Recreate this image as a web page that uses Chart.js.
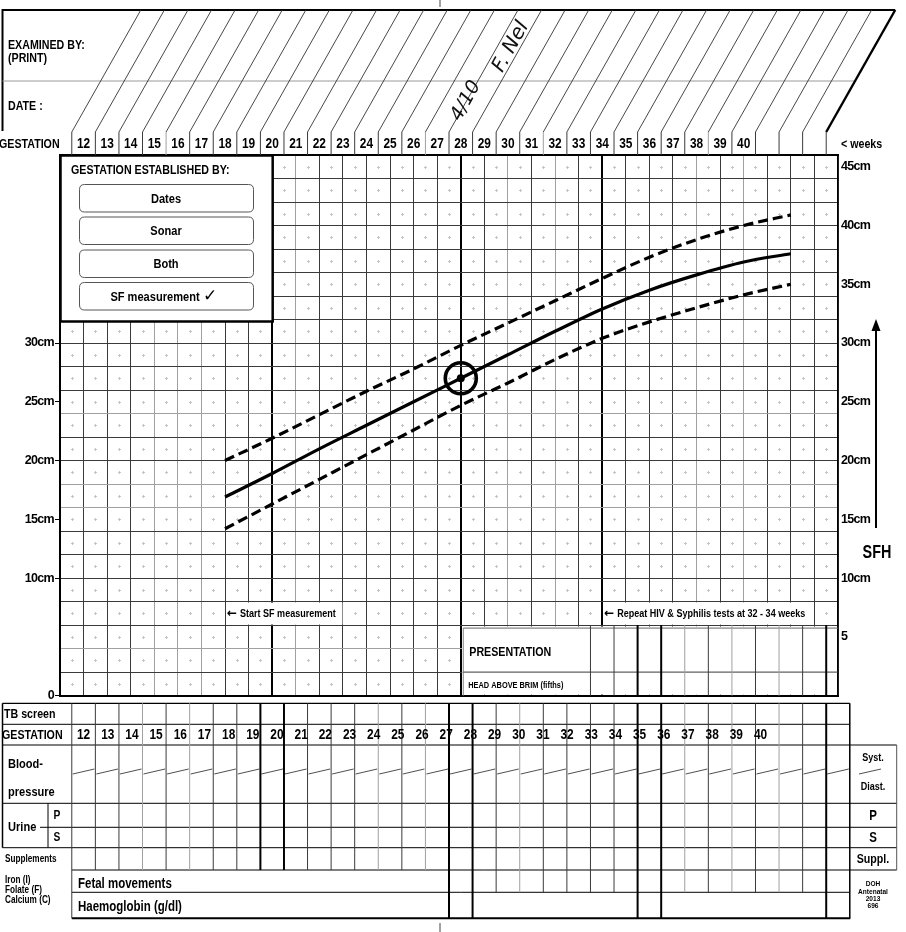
<!DOCTYPE html>
<html><head><meta charset="utf-8">
<script src="https://cdn.jsdelivr.net/npm/chart.js@4.4.1/dist/chart.umd.min.js"></script>
<style>html,body{margin:0;padding:0;background:#fff;overflow:hidden}canvas{display:block}</style>
</head><body>
<canvas id="c" width="906" height="932"></canvas>
<script>
// ---------------- DATA ----------------
const gestationWeeks = [12,13,14,15,16,17,18,19,20,21,22,23,24,25,26,27,28,29,30,31,32,33,34,35,36,37,38,39,40];
const curveWeeks = [18,20,22,24,26,28,30,32,34,36,38,40,42];
const sfhUpper  = [20.0,21.9,23.9,25.9,27.8,29.8,31.7,33.6,35.5,37.3,38.8,40.0,40.9];
const sfhMedian = [16.9,18.9,21.0,23.0,25.0,27.0,29.0,31.0,32.9,34.5,35.8,36.9,37.6];
const sfhLower  = [14.2,16.3,18.4,20.5,22.6,24.7,26.6,28.6,30.4,31.8,33.0,34.1,35.0];
const measuredWeek = [28];
const measuredSFH = [27];
const leftTickValues = [0,10,15,20,25,30];
const rightTickValues = [5,10,15,20,25,30,35,40,45];
const establishedBy = ['Dates','Sonar','Both','SF measurement'];
const thickWeeks = [20,28,34];

// ---------------- STYLE HELPERS ----------------
const FAM = '"Liberation Sans", Arial, sans-serif';
const NARROW = 0.82;
const font = (s, w = 'bold') => `${w} ${s}px ${FAM}`;
const grayGridWeeks = [15,16,17,21,30,32,38,40];
const grayGridCm = [4,16,18,24];
const grayCols = [3,5,13,15,19,26,28,30];
const DARK = '#3a3a3a', GRAY = '#a0a0a0';

function line(ctx, x1, y1, x2, y2, w = 1, c = '#000') {
  ctx.save(); ctx.strokeStyle = c; ctx.lineWidth = w;
  ctx.beginPath(); ctx.moveTo(x1, y1); ctx.lineTo(x2, y2); ctx.stroke(); ctx.restore();
}
function text(ctx, t, x, y, f, align = 'left', sx = NARROW) {
  ctx.save(); ctx.letterSpacing = '0px';
  ctx.translate(x, y); ctx.scale(sx, 1);
  ctx.font = f; ctx.fillStyle = '#000'; ctx.textAlign = align; ctx.textBaseline = 'middle';
  ctx.fillText(t, 0, 0); ctx.restore();
}
function arrowLabel(ctx, t, x, y) {
  text(ctx, '\u2190', x, y, 'bold 12px "DejaVu Sans", sans-serif', 'left', 1);
  text(ctx, t, x + 13, y, font(11));
}
function rrect(ctx, x, y, w, h, r) {
  ctx.beginPath(); ctx.moveTo(x + r, y); ctx.lineTo(x + w - r, y); ctx.quadraticCurveTo(x + w, y, x + w, y + r);
  ctx.lineTo(x + w, y + h - r); ctx.quadraticCurveTo(x + w, y + h, x + w - r, y + h);
  ctx.lineTo(x + r, y + h); ctx.quadraticCurveTo(x, y + h, x, y + h - r);
  ctx.lineTo(x, y + r); ctx.quadraticCurveTo(x, y, x + r, y); ctx.closePath();
}

const formPlugin = {
  id: 'form',
  beforeDraw(chart) {
    const ctx = chart.ctx; ctx.save(); ctx.fillStyle = '#fff'; ctx.fillRect(0, 0, chart.width, chart.height); ctx.restore();
    ctx.letterSpacing = '-0.7px'; // condensed look for axis labels
  },
  beforeDatasetsDraw(chart) {
    const ctx = chart.ctx, xs = chart.scales.x, ys = chart.scales.y, ca = chart.chartArea;
    const X = v => xs.getPixelForValue(v), Y = v => ys.getPixelForValue(v);
    const bx = k => X(11.5 + k);
    // faint cell-centre marks
    ctx.save(); ctx.fillStyle = '#c4c4c4';
    for (let w = 11; w < 44; w++) for (let c = 0; c < 46; c += 2) {
      const px = Math.round(X(w + 0.5)), py = Math.round(Y(c + 1));
      ctx.fillRect(px - 1, py, 3, 1); ctx.fillRect(px, py - 1, 1, 3);
    }
    ctx.restore();
    // label boxes on the grid
    ctx.save(); ctx.fillStyle = '#fff';
    ctx.fillRect(X(18) + 1, Y(8) + 1, X(23) - X(18) - 1.5, Y(6) - Y(8) - 1.5);
    ctx.fillRect(X(34) + 1.5, Y(8) + 1, X(43) - X(34) - 2, Y(6) - Y(8) - 1.5);
    ctx.restore();
    arrowLabel(ctx, 'Start SF measurement', X(18) + 2, (Y(8) + Y(6)) / 2 + 1);
    arrowLabel(ctx, 'Repeat HIV & Syphilis tests at 32 - 34 weeks', X(34) + 2, (Y(8) + Y(6)) / 2 + 1);
    // Presentation box
    const pL = X(28) + 1.5, pT = Y(6) + 1.5;
    ctx.save(); ctx.fillStyle = '#fff'; ctx.fillRect(pL, pT, ca.right - pL - 1, ca.bottom - pT - 1); ctx.restore();
    line(ctx, pL + 1, pT + 1.5, pL + 1, ca.bottom, 1, '#888');
    line(ctx, pL + 1, pT + 1.5, ca.right, pT + 1.5, 1, '#666');
    line(ctx, pL + 1, Y(2), ca.right, Y(2), 1, DARK);
    for (let k = 22; k <= 32; k++) {
      const thick = [24, 25, 32].includes(k);
      line(ctx, bx(k), Y(6), bx(k), ca.bottom, thick ? 2 : 1, thick ? '#000' : (grayCols.includes(k) ? GRAY : DARK));
    }
    text(ctx, 'PRESENTATION', pL + 7, 652, font(13));
    text(ctx, 'HEAD ABOVE BRIM (fifths)', pL + 6, 686, font(9));
    // Gestation established box
    const gR = X(20), gB = 321;
    ctx.save(); ctx.fillStyle = '#fff'; ctx.fillRect(ca.left, ca.top, gR - ca.left, gB - ca.top);
    ctx.strokeStyle = '#000'; ctx.lineWidth = 2.5; ctx.strokeRect(ca.left + 0.5, ca.top + 0.5, gR - ca.left, gB - ca.top); ctx.restore();
    text(ctx, 'GESTATION ESTABLISHED BY:', 71, 170, font(13));
    const btnTop = [184.5, 217, 250, 282.5];
    establishedBy.forEach((lbl, i) => {
      ctx.save(); ctx.strokeStyle = '#555'; ctx.lineWidth = 1; rrect(ctx, 79.5, btnTop[i], 174, 27.5, 5); ctx.stroke(); ctx.restore();
      const last = i === establishedBy.length - 1;
      text(ctx, lbl, last ? 155 : 166, btnTop[i] + 14.5, font(13.5), 'center');
      if (last) text(ctx, '\u2713', 210, btnTop[i] + 14.5, 'bold 17px "DejaVu Sans", sans-serif', 'center', 1);
    });
  },
  afterDraw(chart) {
    const ctx = chart.ctx, xs = chart.scales.x, ca = chart.chartArea;
    ctx.letterSpacing = '0px';
    const X = v => xs.getPixelForValue(v);
    const bx = k => X(11.5 + k);
    // chart top border
    line(ctx, ca.left - 1, ca.top, ca.right + 1, ca.top, 2);
    // ---- top box (examined by / date)
    const topY = 10, hdrY = 132, dx = 69;
    line(ctx, 2.5, topY, bx(32) + dx, topY, 2);
    line(ctx, 2.5, topY - 1, 2.5, 131, 2);
    line(ctx, 2.5, 81, bx(32) + dx * (hdrY - 81) / (hdrY - topY), 81, 1, '#9a9a9a');
    for (let k = 0; k <= 32; k++) {
      line(ctx, bx(k), hdrY, bx(k) + dx, topY, k === 32 ? 2.4 : 0.9, k === 32 ? '#000' : '#333');
      line(ctx, bx(k), hdrY, bx(k), ca.top, 1, [4, 15, 20, 27].includes(k) ? GRAY : DARK);
    }
    text(ctx, 'EXAMINED BY:', 8, 45, font(13));
    text(ctx, '(PRINT)', 8, 58, font(13));
    text(ctx, 'DATE :', 8, 106, font(13));
    text(ctx, 'GESTATION', -1, 144, font(13));
    gestationWeeks.forEach(w => text(ctx, String(w), X(w), 144, font(14.5), 'center'));
    text(ctx, '< weeks', 841, 144, font(13));
    // handwriting
    [['F. Nel', 511, 47, 20], ['4/10', 466, 101, 19]].forEach(([t, x, y, s]) => {
      ctx.save(); ctx.translate(x, y); ctx.rotate(-61 * Math.PI / 180);
      ctx.font = `italic ${s}px "DejaVu Sans", sans-serif`; ctx.fillStyle = '#111';
      ctx.textAlign = 'center'; ctx.textBaseline = 'middle'; ctx.fillText(t, 0, 0); ctx.restore();
    });
    // page marks
    line(ctx, 440, 0, 440, 7, 1, '#444');
    line(ctx, 440, 923, 440, 932, 1, '#444');
    // SFH arrow
    line(ctx, 876, 528, 876, 328, 2);
    ctx.save(); ctx.fillStyle = '#000'; ctx.beginPath(); ctx.moveTo(876, 319); ctx.lineTo(871.5, 331); ctx.lineTo(880.5, 331); ctx.closePath(); ctx.fill(); ctx.restore();
    text(ctx, 'SFH', 877, 553, font(18), 'center', 0.8);
    // ---- bottom table
    const T0 = 703.3, T1 = 724.3, T2 = 745, T3 = 803.3, T3b = 827.3, T4 = 847.7, T5 = 870, T6 = 892.3, T7 = 918.3;
    const xL = 2.5, xR = bx(33), xRR = 896.7;
    line(ctx, xL, T0, xR, T0, 1.2);
    line(ctx, xL, T1, xR, T1, 1);
    line(ctx, xL, T2, xRR, T2, 1);
    line(ctx, xL, T3, xRR, T3, 1);
    line(ctx, 40, T3b, xRR, T3b, 1);
    line(ctx, xL, T4, xRR, T4, 1);
    line(ctx, bx(0), T5, xRR, T5, 1);
    line(ctx, bx(0), T6, xR, T6, 1);
    line(ctx, bx(0), T7, xR + 0.5, T7, 2);
    line(ctx, xL, T0, xL, T4, 1.5);
    line(ctx, 48, T3, 48, T4, 1);
    line(ctx, xRR, T2, xRR, T5, 1, '#555');
    const thickCols = [8, 9, 16, 17, 24, 25, 32];
    for (let k = 0; k <= 33; k++) {
      const thick = thickCols.includes(k);
      const w = thick ? 2 : 1, c = thick ? '#000' : (grayCols.includes(k) ? GRAY : DARK);
      let bottom = T5;
      if (k === 0 || [16, 17, 24, 25, 32, 33].includes(k)) bottom = T7;
      else if (k > 16) bottom = T6;
      line(ctx, bx(k), T0, bx(k), bottom, k === 33 ? 1.5 : w, k === 33 ? '#000' : c);
    }
    for (let k = 0; k <= 32; k++) line(ctx, bx(k) + 1, 774, bx(k + 1) - 1, 769, 0.8, '#222');
    line(ctx, 859, 774, 881, 769, 0.8, '#222');
    gestationWeeks.forEach(w => text(ctx, String(w), X(w) + (w - 12) * 0.6, 735, font(14.5), 'center'));
    text(ctx, 'TB screen', 4, 714, font(13));
    text(ctx, 'GESTATION', 2, 735, font(13));
    text(ctx, 'Blood-', 8, 764, font(13.5));
    text(ctx, 'pressure', 8, 792, font(13.5));
    text(ctx, 'Urine', 8, 827, font(13.5));
    text(ctx, 'P', 57, 816, font(12.5), 'center');
    text(ctx, 'S', 57, 838, font(12.5), 'center');
    text(ctx, 'Supplements', 5, 859, font(10));
    text(ctx, 'Iron (I)', 5, 880, font(10));
    text(ctx, 'Folate (F)', 5, 890, font(10));
    text(ctx, 'Calcium (C)', 5, 900, font(10));
    text(ctx, 'Fetal movements', 78, 884, font(14, '600'));
    text(ctx, 'Haemoglobin (g/dl)', 78, 907, font(14, '600'));
    text(ctx, 'Syst.', 873, 758, font(11), 'center');
    text(ctx, 'Diast.', 873, 787, font(11), 'center');
    text(ctx, 'P', 873, 816, font(14), 'center');
    text(ctx, 'S', 873, 838, font(14), 'center');
    text(ctx, 'Suppl.', 873, 859, font(13), 'center');
    ['DOH', 'Antenatal', '2013', '696'].forEach((t, i) => text(ctx, t, 873, 884 + i * 7.4, font(8), 'center'));
  }
};

const pts = arr => curveWeeks.map((w, i) => ({ x: w, y: arr[i] }));
const measured = measuredWeek.map((w, i) => ({ x: w, y: measuredSFH[i] }));
const curve = (label, arr, dash) => ({
  label, data: pts(arr), borderColor: '#000', borderWidth: 3.2, borderDash: dash,
  pointRadius: 0, fill: false, tension: 0.4, cubicInterpolationMode: 'monotone'
});
const labelFont = { family: FAM, size: 12.5, weight: 'bold' };

new Chart(document.getElementById('c'), {
  type: 'line',
  data: {
    datasets: [
      { label: 'Measured SFH', type: 'scatter', data: measured, pointRadius: 4, pointBackgroundColor: '#000', pointBorderColor: '#000', pointBorderWidth: 0 },
      { label: 'Measured ring', type: 'scatter', data: measured, pointRadius: 15.5, pointBackgroundColor: 'rgba(0,0,0,0)', pointBorderColor: '#000', pointBorderWidth: 3.6 },
      curve('Upper', sfhUpper, [10, 5]),
      curve('Median', sfhMedian, []),
      curve('Lower', sfhLower, [10, 5])
    ]
  },
  options: {
    responsive: false, devicePixelRatio: 1, animation: false,
    layout: { padding: { top: 155, bottom: 236.4, left: 0, right: 0 } },
    plugins: { legend: { display: false }, tooltip: { enabled: false } },
    scales: {
      x: {
        type: 'linear', min: 11, max: 44, position: 'bottom',
        ticks: { display: false, stepSize: 1 },
        grid: {
          drawTicks: false,
          color: c => thickWeeks.includes(c.tick.value) ? '#000' : (grayGridWeeks.includes(c.tick.value) ? GRAY : DARK),
          lineWidth: c => thickWeeks.includes(c.tick.value) ? 2 : 1
        },
        border: { display: true, color: '#000', width: 2 },
        afterFit: s => { s.height = 0; }
      },
      y: {
        type: 'linear', min: 0, max: 46, position: 'left', weight: 1,
        ticks: { display: false, stepSize: 2 },
        grid: { drawTicks: false, color: c => grayGridCm.includes(c.tick.value) ? GRAY : DARK, lineWidth: 1 },
        border: { display: false },
        afterFit: s => { s.width = 0; }
      },
      yL: {
        type: 'linear', min: 0, max: 46, position: 'left', weight: 0,
        afterBuildTicks: s => { s.ticks = leftTickValues.map(v => ({ value: v })); },
        ticks: { callback: v => v === 0 ? '0' : v + 'cm', color: '#000', font: labelFont, padding: 1, autoSkip: false },
        grid: { drawOnChartArea: false, drawTicks: true, tickLength: 5, color: '#000', lineWidth: 1 },
        border: { display: true, color: '#000', width: 2 },
        afterFit: s => { s.width = 60; }
      },
      yR: {
        type: 'linear', min: 0, max: 46, position: 'right',
        afterBuildTicks: s => { s.ticks = rightTickValues.map(v => ({ value: v })); },
        ticks: { callback: v => v === 5 ? '5' : v + 'cm', color: '#000', font: labelFont, padding: 3, autoSkip: false },
        grid: { display: false, drawTicks: false },
        border: { display: true, color: '#000', width: 1.5 },
        afterFit: s => { s.width = 68; }
      }
    }
  },
  plugins: [formPlugin]
});
</script>
</body></html>
